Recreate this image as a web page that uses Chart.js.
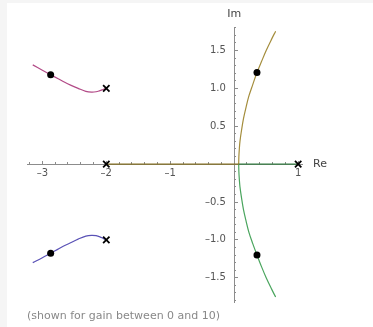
<!DOCTYPE html>
<html>
<head>
<meta charset="utf-8">
<script src="https://cdn.jsdelivr.net/npm/chart.js@4/dist/chart.umd.min.js"></script>
<style>
  body { margin: 0; background: #f5f5f5; }
  #panel { position: absolute; left: 7px; top: 3px; right: 0; bottom: 0; background: #fff; }
  #chart { position: absolute; left: 0; top: 0; }
  #note { position: absolute; left: 27px; top: 309px; font: 11px "DejaVu Sans", sans-serif; color: #888; }
</style>
</head>
<body>
<div id="panel"></div>
<canvas id="chart" width="373" height="327"></canvas>
<div id="note">(shown for gain between 0 and 10)</div>
<script>
// open loop poles
let poleRe = [-2, -2, -2, 1];
let poleIm = [1, -1, 0, 0];
// closed loop poles marked with dots
let dotRe = [-2.87, -2.87, 0.356, 0.356];
let dotIm = [1.18, -1.175, 1.21, -1.20];

// branch leaving -2+j
let upLeftRe = [-2.00, -2.05, -2.10, -2.16, -2.23, -2.32, -2.44, -2.55, -2.65, -2.76, -2.87, -3.00, -3.15];
let upLeftIm = [1.00, 0.985, 0.97, 0.955, 0.95, 0.96, 1.00, 1.04, 1.08, 1.13, 1.18, 1.24, 1.31];
// branch leaving -2-j
let lowLeftRe = [-2.00, -2.05, -2.10, -2.16, -2.23, -2.32, -2.44, -2.55, -2.65, -2.76, -2.87, -3.00, -3.15];
let lowLeftIm = [-1.00, -0.98, -0.96, -0.945, -0.94, -0.95, -0.99, -1.035, -1.075, -1.125, -1.175, -1.235, -1.30];
// real axis segments, meeting at the breakaway point
let realLeftRe = [-2, 0.07];
let realRightRe = [1, 0.07];
// branches leaving the real axis
let rightUpRe = [0.07, 0.073, 0.08, 0.09, 0.115, 0.145, 0.185, 0.23, 0.29, 0.356, 0.425, 0.50, 0.585, 0.648];
let rightUpIm = [0, 0.1, 0.2, 0.3, 0.45, 0.6, 0.75, 0.9, 1.05, 1.21, 1.35, 1.5, 1.65, 1.755];
let rightDownRe = [0.07, 0.073, 0.08, 0.09, 0.115, 0.145, 0.185, 0.23, 0.29, 0.356, 0.425, 0.50, 0.585, 0.648];
let rightDownIm = [0, -0.1, -0.2, -0.3, -0.45, -0.6, -0.75, -0.9, -1.05, -1.20, -1.35, -1.5, -1.65, -1.755];

let xMajor = 1;
let xMinor = 0.2;
let yMajor = 0.5;
let yMinor = 0.1;

function toPoints(re, im) {
  return re.map((r, i) => ({x: r, y: im[i]}));
}

function branch(re, im, color) {
  return {
    data: toPoints(re, im),
    showLine: true,
    borderColor: color,
    borderWidth: 1.2,
    pointRadius: 0,
    tension: 0.35,
    fill: false
  };
}

function signed(value, txt) {
  return value < 0 ? '\u2013' + txt : txt;
}

function xTick(value) {
  if(Math.abs(value) < 1e-9) {
    return '';
  }
  return signed(value, String(Math.abs(value)));
}

// centred y axis puts its labels right against the line, so pad with spaces
function yTick(value) {
  if(Math.abs(value) < 1e-9) {
    return '';
  }
  return signed(value, Math.abs(value).toFixed(1)) + '\u2007\u2009';
}

function axisOpts(pos, min, max, step, tickLen, pad, major, fmt) {
  return {
    type: 'linear',
    min: min,
    max: max,
    position: pos,
    border: {display: major, color: '#8c8c8c', width: 1},
    grid: {drawOnChartArea: false, tickLength: tickLen, color: '#8c8c8c'},
    ticks: {
      display: major,
      stepSize: step,
      includeBounds: false,
      autoSkip: false,
      maxRotation: 0,
      padding: pad,
      color: '#555',
      font: {family: 'DejaVu Sans', size: 10},
      callback: fmt
    }
  };
}

const axisNames = {
  id: 'axisNames',
  afterDraw(chart) {
    let ctx = chart.ctx;
    let xs = chart.scales.x;
    let ys = chart.scales.y;
    ctx.save();
    ctx.fillStyle = '#444';
    ctx.font = '11px "DejaVu Sans"';
    ctx.textBaseline = 'middle';
    ctx.textAlign = 'left';
    ctx.fillText('Re', xs.right + 11, ys.getPixelForValue(0));
    ctx.textAlign = 'center';
    ctx.fillText('Im', xs.getPixelForValue(0), ys.top - 13);
    ctx.restore();
  }
};

new Chart(document.getElementById('chart'), {
  type: 'scatter',
  data: {
    datasets: [
      {
        data: toPoints(poleRe, poleIm),
        pointStyle: 'crossRot',
        pointRadius: 4.5,
        borderWidth: 1.8,
        borderColor: '#000',
        backgroundColor: '#000'
      },
      {
        data: toPoints(dotRe, dotIm),
        pointStyle: 'circle',
        pointRadius: 3.5,
        borderWidth: 0,
        backgroundColor: '#000'
      },
      branch(upLeftRe, upLeftIm, '#b24a87'),
      branch(lowLeftRe, lowLeftIm, '#5a52b6'),
      branch(realLeftRe, [0, 0], '#857125'),
      branch(realRightRe, [0, 0], '#357d42'),
      branch(rightUpRe, rightUpIm, '#a48d3c'),
      branch(rightDownRe, rightDownIm, '#4aa55e')
    ]
  },
  options: {
    responsive: false,
    animation: false,
    layout: {padding: {left: 27, right: 71, top: 27, bottom: 25}},
    plugins: {legend: {display: false}, tooltip: {enabled: false}},
    scales: {
      x: axisOpts({y: 0}, -3.24, 1.06, xMajor, -4, 7, true, xTick),
      x2: axisOpts({y: 0}, -3.24, 1.06, xMinor, -2, 0, false, xTick),
      y: axisOpts({x: 0}, -1.82, 1.81, yMajor, -4, 12, true, yTick),
      y2: axisOpts({x: 0}, -1.82, 1.81, yMinor, -2, 0, false, yTick)
    }
  },
  plugins: [axisNames]
});
</script>
</body>
</html>
